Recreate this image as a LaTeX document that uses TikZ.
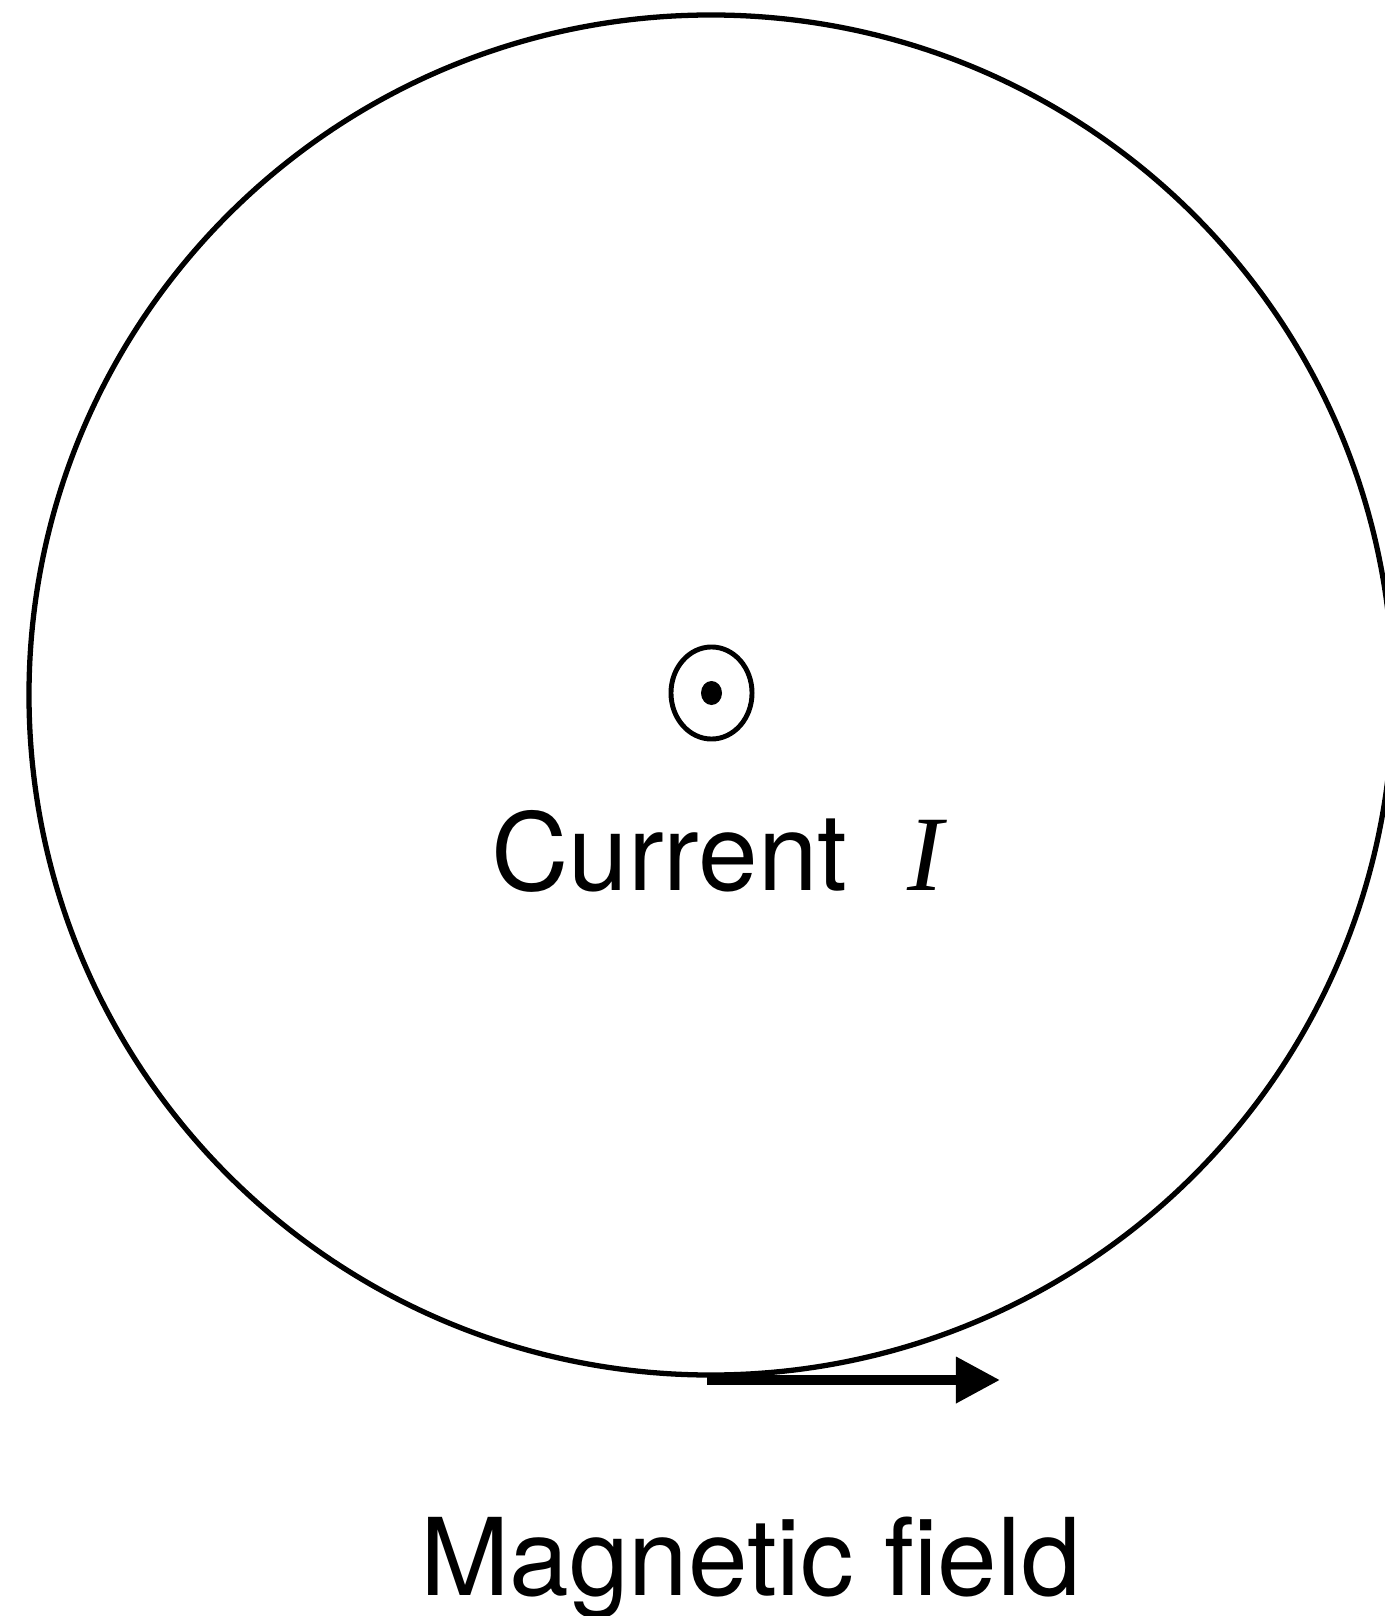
\documentclass[tikz,border=0pt]{standalone}
\usepackage{fontspec}
\setmainfont{TeX Gyre Heros}
\newfontfamily\symfont{Liberation Serif}
\usetikzlibrary{arrows.meta,positioning,shapes.geometric}

\begin{document}
\begin{tikzpicture}[x=0.01cm,y=-0.01cm,
    every node/.style={inner sep=0pt},
    ring/.style={draw,ellipse,line width=1.4pt,minimum width=8.1mm,minimum height=9.2mm},
    bigtext/.style={font=\fontsize{30.5}{36}\selectfont,anchor=base},
    fieldarrow/.style={line width=2.8pt,-{Triangle[length=4.4mm,width=4.4mm]}}]
  \useasboundingbox (0,0) rectangle (1384,1616);
  % field line round the wire
  \draw[line width=1.5pt] (711,695) ellipse [x radius=682,y radius=680];
  \node[ring] (wire) at (711.5,693) {};
  \fill (wire.center) ellipse [x radius=10.5,y radius=12];
  \node[bigtext] (cur) at (717,890) {Current~~{\symfont\itshape I}};
  \coordinate (b0) at (707,1380);
  \coordinate (b1) at (1000,1380);
  \draw[fieldarrow] (b0) -- (b1);
  \node[bigtext] (mag) at (750.5,1595) {Magnetic field};
\end{tikzpicture}
\end{document}
